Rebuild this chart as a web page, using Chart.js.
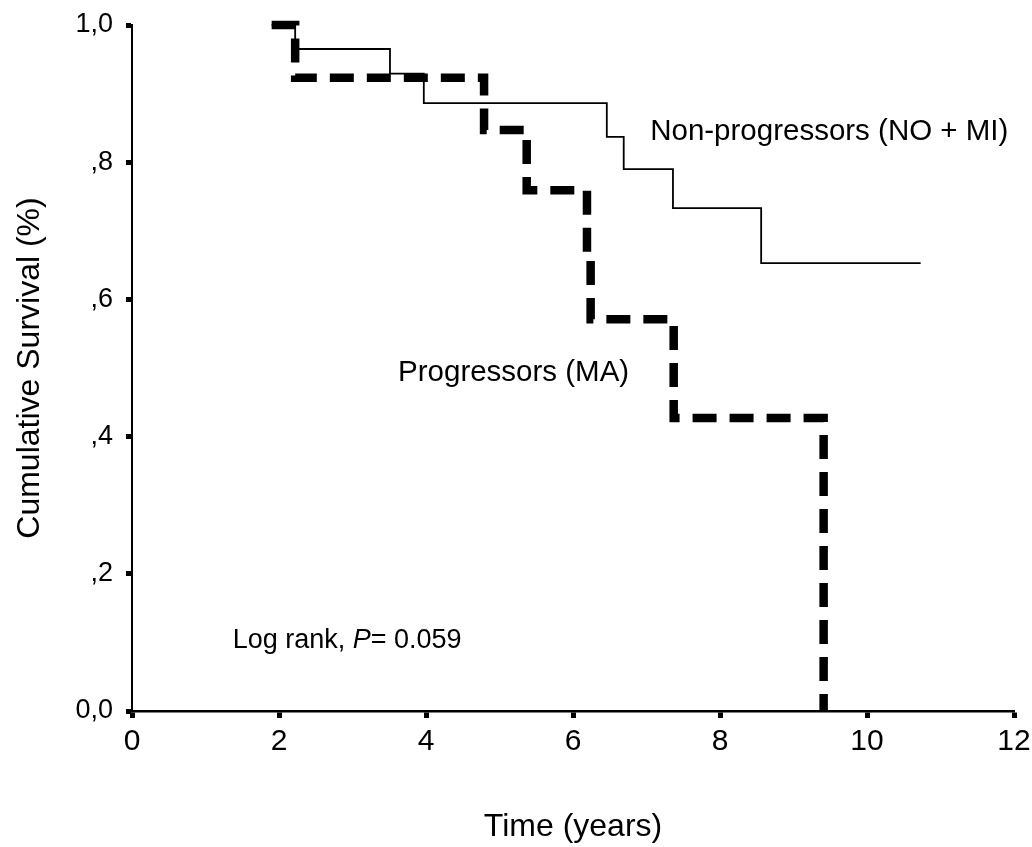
<!DOCTYPE html>
<html>
<head>
<meta charset="utf-8">
<script src="https://cdn.jsdelivr.net/npm/chart.js@4"></script>
<style>
  html, body { margin: 0; padding: 0; background: #fff; }
  canvas { display: block; }
</style>
</head>
<body>
<canvas id="km" width="1032" height="847"></canvas>
<script>
// Kaplan-Meier steps (time in years, cumulative survival)
const nonProgTime = [1.9, 2.22, 3.51, 3.97, 6.46, 6.69, 7.36, 8.56, 10.73]
const nonProgSurv = [1.0, 0.965, 0.929, 0.886, 0.837, 0.790, 0.733, 0.653, 0.653]

const progTime = [1.9, 2.22, 4.79, 5.37, 6.19, 6.24, 7.37, 9.41]
const progSurv = [1.0, 0.923, 0.847, 0.759, 0.668, 0.571, 0.427, 0.0]

const xTicks = [0, 2, 4, 6, 8, 10, 12]
const yTickLabels = ['0,0', ',2', ',4', ',6', ',8', '1,0']

const FONT = 'Arial, "Liberation Sans", sans-serif'

const toPoints = (xs, ys) => xs.map((x, i) => ({ x: x, y: ys[i] }))

// free text on the plot, placed in data units
const notes = {
  id: 'notes',
  afterDraw(chart) {
    const { ctx, scales: { x, y } } = chart
    ctx.save()
    ctx.fillStyle = '#000'
    ctx.textBaseline = 'alphabetic'
    ctx.textAlign = 'left'

    ctx.font = '29.5px ' + FONT
    ctx.fillText('Non-progressors (NO + MI)', x.getPixelForValue(7.05), y.getPixelForValue(0.833))
    ctx.fillText('Progressors (MA)', x.getPixelForValue(3.62), y.getPixelForValue(0.481))

    // Log rank line with italic P
    let px = x.getPixelForValue(1.37)
    const py = y.getPixelForValue(0.092)
    ctx.font = '27px ' + FONT
    ctx.fillText('Log rank, ', px, py)
    px += ctx.measureText('Log rank, ').width
    ctx.font = 'italic 27px ' + FONT
    ctx.fillText('P', px, py)
    px += ctx.measureText('P').width
    ctx.font = '27px ' + FONT
    ctx.fillText('= 0.059', px, py)
    ctx.restore()
  }
}

new Chart(document.getElementById('km'), {
  type: 'line',
  data: {
    datasets: [
      {
        label: 'Non-progressors (NO + MI)',
        data: toPoints(nonProgTime, nonProgSurv),
        stepped: true,
        borderColor: '#000',
        borderWidth: 1.8,
        pointRadius: 0,
        fill: false,
        clip: false
      },
      {
        label: 'Progressors (MA)',
        data: toPoints(progTime, progSurv),
        stepped: true,
        borderColor: '#000',
        borderWidth: 8.5,
        borderDash: [24, 13],
        borderCapStyle: 'butt',
        borderJoinStyle: 'miter',
        pointRadius: 0,
        fill: false,
        clip: false
      }
    ]
  },
  options: {
    responsive: false,
    animation: false,
    layout: { padding: { top: 25, right: 18, left: 0, bottom: 0 } },
    plugins: {
      legend: { display: false },
      tooltip: { enabled: false }
    },
    scales: {
      x: {
        type: 'linear',
        min: 0,
        max: 12,
        afterFit: (scale) => {
          scale.height = 136
          scale.paddingLeft = 0
          scale.paddingRight = 0
        },
        afterBuildTicks: (scale) => { scale.ticks = xTicks.map(v => ({ value: v })) },
        border: { display: true, color: '#000', width: 2.5 },
        grid: { drawOnChartArea: false, drawTicks: true, tickLength: 7, tickWidth: 5, tickColor: '#000' },
        ticks: { color: '#000', padding: 6, font: { family: FONT, size: 30 }, maxRotation: 0 },
        title: {
          display: true,
          text: 'Time (years)',
          color: '#000',
          font: { family: FONT, size: 32 },
          padding: { top: 0, bottom: 1 }
        }
      },
      y: {
        min: 0,
        max: 1,
        afterFit: (scale) => {
          scale.width = 132
          scale.paddingTop = 0
          scale.paddingBottom = 0
        },
        afterBuildTicks: (scale) => { scale.ticks = yTickLabels.map((_, i) => ({ value: i * 0.2 })) },
        border: { display: true, color: '#000', width: 2 },
        grid: { drawOnChartArea: false, drawTicks: true, tickLength: 6, tickWidth: 5, tickColor: '#000' },
        ticks: {
          color: '#000',
          padding: 13,
          font: { family: FONT, size: 27 },
          callback: (value, index) => yTickLabels[index]
        },
        title: {
          display: true,
          text: 'Cumulative Survival (%)',
          color: '#000',
          font: { family: FONT, size: 32 },
          padding: { top: 11, bottom: 0 }
        }
      }
    }
  },
  plugins: [notes]
})
</script>
</body>
</html>
